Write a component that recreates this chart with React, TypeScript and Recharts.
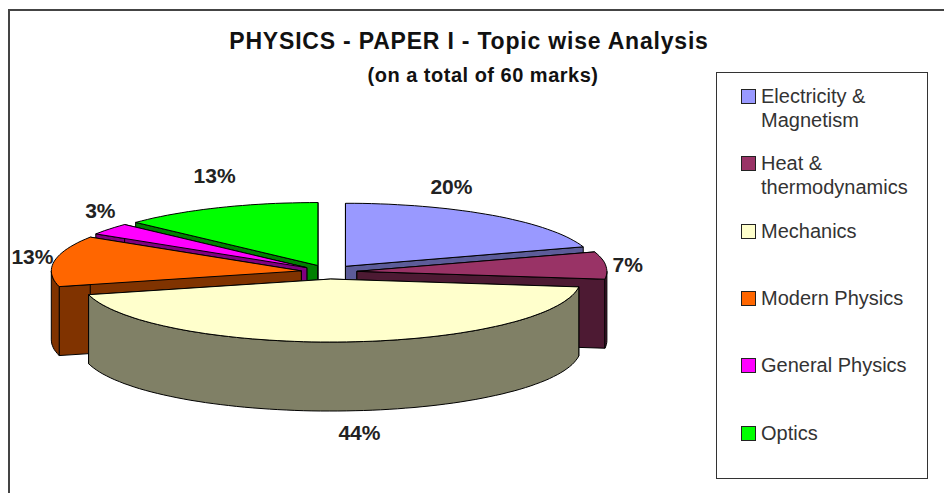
import React from 'react';
import { PieChart, Pie, Legend } from 'recharts';

const topics = ['Electricity & Magnetism', 'Heat & thermodynamics', 'Mechanics', 'Modern Physics', 'General Physics', 'Optics'];
const shares = [20, 7, 44, 13, 3, 13];
const topColors = ['#9999ff', '#993366', '#ffffcc', '#ff6600', '#ff00ff', '#00ff00'];
const wallColors = ['#5c5c99', '#4d1a33', '#808066', '#803300', '#800080', '#008000'];
const legendLines = [['Electricity &', 'Magnetism'], ['Heat &', 'thermodynamics'], ['Mechanics'], ['Modern Physics'], ['General Physics'], ['Optics']];
// back to front, the pie is faked 3D so the paint order matters
const drawOrder = [5, 4, 0, 3, 1, 2];
// nudges for the % labels, from the rim of each slice
const labelNudge = [[-41, -29], [22, -1], [13, 22], [-22, -5], [-9, -19], [-4, -32]];

const chartData = topics.map((name, i) => ({ name, value: shares[i], fill: topColors[i] }));

const FLAT = 0.252;
const DEPTH = 69;
const EXPLODE = 28;
const RADIUS = 250;

const rad = (deg: number) => (deg * Math.PI) / 180;

const rimPoint = (ax: number, ay: number, r: number, deg: number) => [
  ax + r * Math.cos(rad(deg)),
  ay - r * FLAT * Math.sin(rad(deg)),
];

const apexOf = (cx: number, cy: number, mid: number) => rimPoint(cx, cy, EXPLODE, mid);

const arcPath = (ax: number, ay: number, r: number, from: number, to: number, dy = 0) => {
  const steps = Math.max(2, Math.ceil(Math.abs(to - from) / 2));
  const pts: string[] = [];
  for (let s = 0; s <= steps; s++) {
    const [x, y] = rimPoint(ax, ay, r, from + ((to - from) * s) / steps);
    pts.push(`${x.toFixed(1)} ${(y + dy).toFixed(1)}`);
  }
  return pts;
};

// draws one slice only, every Pie layer has the same data so the angles stay the same
const sliceShape = (layer: number) => (props: any) => {
  if (props.index !== layer) return <g />;
  const { cx, cy, outerRadius, startAngle, endAngle } = props;
  const mid = (startAngle + endAngle) / 2;
  const [ax, ay] = apexOf(cx, cy, mid);
  const wall = wallColors[layer];
  const line = { stroke: '#000', strokeWidth: 1, strokeLinejoin: 'round' as const };

  const top = arcPath(ax, ay, outerRadius, startAngle, endAngle);
  const face = (deg: number) => {
    const [x, y] = rimPoint(ax, ay, outerRadius, deg);
    return `M${ax} ${ay}L${x} ${y}L${x} ${y + DEPTH}L${ax} ${ay + DEPTH}Z`;
  };

  // only the front half of the rim can be seen
  const walls: React.ReactNode[] = [];
  const lo = Math.min(startAngle, endAngle);
  const hi = Math.max(startAngle, endAngle);
  [[-180, 0], [180, 360]].forEach(([a, b], k) => {
    const from = Math.max(lo, a);
    const to = Math.min(hi, b);
    if (to <= from) return;
    const upper = arcPath(ax, ay, outerRadius, from, to);
    const lower = arcPath(ax, ay, outerRadius, to, from, DEPTH);
    walls.push(<path key={k} d={`M${upper.join('L')}L${lower.join('L')}Z`} fill={wall} {...line} />);
  });

  return (
    <g>
      <path d={face(startAngle)} fill={wall} {...line} />
      <path d={face(endAngle)} fill={wall} {...line} />
      {walls}
      <path d={`M${ax} ${ay}L${top.join('L')}Z`} fill={topColors[layer]} {...line} />
    </g>
  );
};

const percentLabel = (props: any) => {
  const { cx, cy, midAngle, outerRadius, index } = props;
  const [ax, ay] = apexOf(cx, cy, midAngle);
  const [x, y] = rimPoint(ax, ay, outerRadius, midAngle);
  const front = Math.sin(rad(midAngle)) < 0 && Math.abs(Math.cos(rad(midAngle))) < 0.5;
  const [nx, ny] = labelNudge[index];
  return (
    <text
      x={x + nx}
      y={y + ny + (front ? DEPTH : 0)}
      textAnchor="middle"
      dominantBaseline="central"
      fontFamily="Liberation Sans"
      fontSize={21}
      fontWeight="bold"
      fill="#222"
    >
      {shares[index]}%
    </text>
  );
};

const LegendBox = () => (
  <div style={{ position: 'relative', width: 212, height: 407, boxSizing: 'border-box', border: '1px solid #333', background: '#fff', fontFamily: 'Liberation Sans', fontSize: 20, lineHeight: '24px', color: '#333' }}>
    {topics.map((t, i) => (
      <div key={t} style={{ position: 'absolute', left: 24, top: 11 + i * 67.3, display: 'flex' }}>
        <span style={{ width: 13, height: 13, marginTop: 5, marginRight: 5, border: '1px solid #222', background: topColors[i], flex: 'none' }} />
        <span style={{ whiteSpace: 'nowrap' }}>
          {legendLines[i].map((l) => (
            <div key={l}>{l}</div>
          ))}
        </span>
      </div>
    ))}
  </div>
);

export default function App() {
  return (
    <div style={{ position: 'absolute', left: 0, top: 0, width: 944, height: 493, background: '#fff' }}>
      <PieChart width={944} height={493} margin={{ top: 0, right: 0, bottom: 0, left: 0 }}>
        <path d="M9 493L9 10L944 10" fill="none" stroke="#444" strokeWidth={2} />
        <text x={469} y={49} textAnchor="middle" fontFamily="Liberation Sans" fontSize={23} fontWeight="bold" letterSpacing={0.8} fill="#111">
          PHYSICS - PAPER I - Topic wise Analysis
        </text>
        <text x={483} y={82} textAnchor="middle" fontFamily="Liberation Sans" fontSize={20} fontWeight="bold" letterSpacing={0.5} fill="#111">
          (on a total of 60 marks)
        </text>
        {drawOrder.map((layer) => (
          <Pie
            key={layer}
            data={chartData}
            dataKey="value"
            nameKey="name"
            cx={329}
            cy={272}
            outerRadius={RADIUS}
            startAngle={90}
            endAngle={-270}
            stroke="none"
            isAnimationActive={false}
            shape={sliceShape(layer)}
            label={layer === 2 ? percentLabel : false}
            labelLine={false}
          />
        ))}
        <Legend
          layout="vertical"
          align="right"
          verticalAlign="top"
          wrapperStyle={{ position: 'absolute', left: 716, top: 72, width: 212 }}
          content={<LegendBox />}
        />
      </PieChart>
    </div>
  );
}
